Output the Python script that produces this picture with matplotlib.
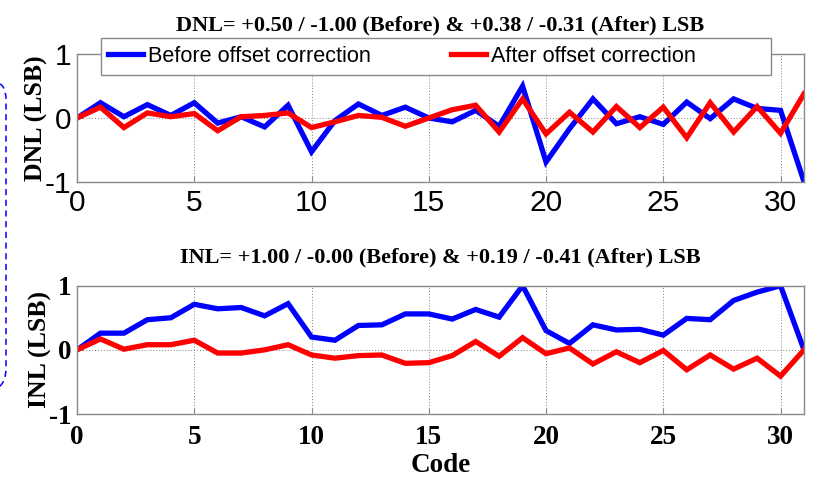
import matplotlib
matplotlib.use("Agg")
import matplotlib.pyplot as plt
from matplotlib.patches import Rectangle, PathPatch
from matplotlib.path import Path

codes = list(range(32))
dnl_before = [0.00, 0.24, 0.02, 0.21, 0.04, 0.24, -0.08, 0.02, -0.14, 0.20,
              -0.53, -0.04, 0.22, 0.04, 0.17, 0.00, -0.06, 0.12, -0.13, 0.50,
              -0.69, -0.17, 0.30, -0.09, 0.02, -0.10, 0.25, -0.01, 0.30, 0.15,
              0.12, -1.00]
dnl_after = [0.00, 0.17, -0.15, 0.08, 0.02, 0.07, -0.20, 0.02, 0.04, 0.08,
             -0.15, -0.06, 0.04, 0.01, -0.13, 0.00, 0.13, 0.20, -0.22, 0.30,
             -0.25, 0.09, -0.22, 0.18, -0.15, 0.17, -0.31, 0.24, -0.22, 0.18,
             -0.24, 0.38]
inl_before = [0.00, 0.26, 0.26, 0.47, 0.50, 0.71, 0.64, 0.66, 0.53, 0.72,
              0.20, 0.15, 0.38, 0.39, 0.56, 0.56, 0.48, 0.63, 0.51, 1.00,
              0.30, 0.10, 0.39, 0.31, 0.32, 0.23, 0.49, 0.47, 0.77, 0.90,
              1.00, 0.00]
inl_after = [0.00, 0.17, 0.01, 0.08, 0.08, 0.15, -0.05, -0.05, 0.00, 0.08,
             -0.08, -0.13, -0.09, -0.08, -0.21, -0.20, -0.09, 0.13, -0.10, 0.19,
             -0.06, 0.03, -0.22, -0.03, -0.20, -0.01, -0.31, -0.08, -0.30, -0.13,
             -0.41, 0.00]
x_ticks = [0, 5, 10, 15, 20, 25, 30]
y_ticks = [-1, 0, 1]
title_dnl = "DNL= +0.50 / -1.00 (Before) & +0.38 / -0.31 (After) LSB"
title_inl = "INL= +1.00 / -0.00 (Before) & +0.19 / -0.41 (After) LSB"
label_before = "Before offset correction"
label_after = "After offset correction"

W, H = 815, 479
fig = plt.figure(figsize=(W / 100, H / 100), dpi=100)
fig.patch.set_facecolor("white")

def fx(px):
    return px / W

def fy(py):
    return 1 - py / H

ax1 = fig.add_axes([fx(77), fy(181.7), fx(804) - fx(77), fy(54.3) - fy(181.7)])
ax2 = fig.add_axes([fx(77), fy(414), fx(804) - fx(77), fy(285.7) - fy(414)])

BLUE = "#0000ff"
RED = "#ff0000"
LW = 3.8
serif_bold = dict(family="Liberation Serif", weight="bold")

for ax in (ax1, ax2):
    ax.set_xlim(0, 31)
    ax.set_ylim(-1, 1)
    ax.set_xticks(x_ticks)
    ax.set_yticks(y_ticks)
    ax.grid(True, linestyle=(0, (1, 2)), color="#808080", linewidth=0.7)
    for s in ax.spines.values():
        s.set_color("#8a8a8a")
        s.set_linewidth(1.0)
    ax.tick_params(direction="in", length=4, color="#8a8a8a")

l1, = ax1.plot(codes, dnl_before, color=BLUE, lw=LW, solid_joinstyle="miter", label=label_before)
l2, = ax1.plot(codes, dnl_after, color=RED, lw=LW, solid_joinstyle="miter", label=label_after)
ax2.plot(codes, inl_before, color=BLUE, lw=LW, solid_joinstyle="miter")
ax2.plot(codes, inl_after, color=RED, lw=LW, solid_joinstyle="miter")

# top axes tick labels: sans
ax1.set_xticklabels([str(v) for v in x_ticks], family="Liberation Sans", fontsize=21.5)
ax1.set_yticklabels(["-1", "0", "1"], family="Liberation Sans", fontsize=21.5)
ax1.tick_params(axis="x", pad=5)
ax1.tick_params(axis="y", pad=4)
# bottom axes tick labels: bold serif
ax2.set_xticklabels([str(v) for v in x_ticks], fontsize=19.5, **serif_bold)
ax2.set_yticklabels(["-1", "0", "1"], fontsize=19.5, **serif_bold)
ax2.tick_params(axis="x", pad=8)
ax2.tick_params(axis="y", pad=4)

ax1.set_title(title_dnl, fontsize=16, pad=17, **serif_bold)
ax2.set_title(title_inl, fontsize=16, pad=17, **serif_bold)
ax1.set_ylabel("DNL (LSB)", fontsize=18.5, labelpad=-2, **serif_bold)
ax2.set_ylabel("INL (LSB)", fontsize=18.5, labelpad=-2, **serif_bold)
ax2.set_xlabel("Code", fontsize=19.5, labelpad=2, **serif_bold)

# legend frame
rect = Rectangle((fx(101), fy(75)), fx(771) - fx(101), fy(38) - fy(75),
                 transform=fig.transFigure, facecolor="white", edgecolor="#8a8a8a",
                 linewidth=1.0, zorder=5)
fig.add_artist(rect)
leg_fs = 15.6
em = leg_fs * 100 / 72
leg = fig.legend(handles=[l1, l2], loc="center left",
                 bbox_to_anchor=(fx(108), fy(56.5)), ncol=2, frameon=False,
                 prop=dict(family="Liberation Sans", size=leg_fs),
                 handlelength=35 / em, handletextpad=5 / em, columnspacing=80 / em,
                 borderpad=0, borderaxespad=0)
leg.set_zorder(6)

# cropped dashed rounded box at the left edge
pts = [(0, 84), (4, 86), (6, 92), (6, 100), (6, 368), (6, 378), (3, 384), (-1, 387)]
codes_p = [Path.MOVETO, Path.CURVE4, Path.CURVE4, Path.CURVE4,
           Path.LINETO, Path.CURVE4, Path.CURVE4, Path.CURVE4]
path = Path([(fx(px), fy(py)) for px, py in pts], codes_p)
fig.add_artist(PathPatch(path, transform=fig.transFigure, facecolor="none",
                         edgecolor=BLUE, linestyle=(0, (4, 3)), linewidth=1.1))

fig.savefig("out.png", dpi=100)
